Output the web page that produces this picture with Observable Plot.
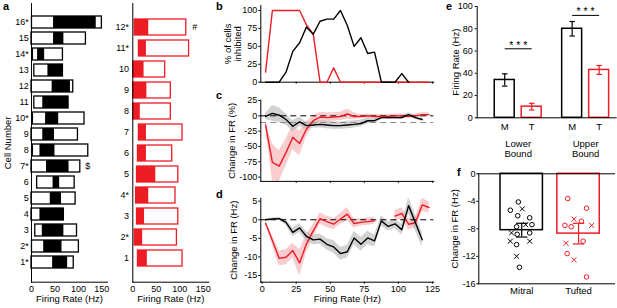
<!DOCTYPE html>
<html><head><meta charset="utf-8">
<script src="https://cdn.jsdelivr.net/npm/d3@7"></script>
<script src="https://cdn.jsdelivr.net/npm/@observablehq/plot@0.6"></script>
<style>
html,body{margin:0;padding:0;background:#fff;}
#fig{position:relative;width:617px;height:308px;overflow:hidden;background:#fff;font-family:"Liberation Sans",Arial,Helvetica,sans-serif;}
.plbl{position:absolute;font-weight:bold;font-size:11px;line-height:8px;color:#000;}
</style></head><body>
<div id="fig">
<div class="plbl" style="left:3px;top:2.4px">a</div>
<div class="plbl" style="left:216px;top:2.4px">b</div>
<div class="plbl" style="left:216px;top:90.5px">c</div>
<div class="plbl" style="left:216px;top:189.9px">d</div>
<div class="plbl" style="left:446px;top:2.4px">e</div>
<div class="plbl" style="left:457px;top:168.2px">f</div>
</div>
<script>
// ---------- panel a (mitral, black) ----------
const cellsA = ["16*","15","14*","13","12","11","10*","9","8","7*","6","5","4","3","2*","1*"];
const loA  = [1,0,3,6,0,6,3,0,3,0,12,0,0,8,1,0];
const hiA  = [150,116,67,67,89,79,113,99,121,104,92,94,69,97,101,90];
const onA  = [47,47,13,35,44,24,30,24,18,32,46,40,18,23,26,45];
const offA = [138,69,28,67,83,79,58,49,50,80,60,64,69,69,65,77];
const flagCellA = "7*", flagSymA = "$";
// ---------- panel a (tufted, red) ----------
const cellsR = ["12*","11*","10","9","8","7","6","5","4*","3","2*","1"];
const loR   = [4,13,1,1,1,13,11,9,7,9,4,11];
const hiR   = [114,120,69,81,81,106,84,97,91,97,94,106];
const fillR = [34,29,24,30,16,29,29,49,34,25,21,31];
const flagCellR = "12*", flagSymR = "#";
// ---------- panels b, c, d (firing-rate bins, Hz) ----------
const bins = [2.5,7.5,12.5,17.5,22.5,27.5,32.5,37.5,42.5,47.5,52.5,57.5,62.5,67.5,72.5,77.5,82.5,87.5,92.5,97.5,102.5,107.5,112.5,117.5,122.5];
const bBlack = [0,0,0,14,43,55,77,67,85,88,88,100,79,50,62,40,42,0,0,0,12,0];
const bRed   = [14,100,100,100,100,100,80,67,0,0,20,0,0,0,0,0,0,0,0,0,0,0,0,0,0];
const cBlack    = [-1,4,1,-6,-17,-10,-16,-15,-14,-15,-16,-16,-15,-14,-12.5,-8,-8,-3,-3,-3,-3,2,-3,-6];
const cBlackErr = [5,13,12,9,9,8,6,5,6,6,6,6,6,6,5.5,5,4,3,3,3,3,3,3,3];
const cRed    = [-15,-76,-82,-60,-35,-45,-22,-8,-2,-3,-2,-1,3,-1,-1,0,-1,-1,-1,0,0,-1,0,2,2];
const cRedErr = [5,30,25,22,20,20,12,8,8,8,7,7,8,6,3,3,3,3,3,3,3,3,3,3,3];
const cThreshold = -11;
const dBlack    = [0,0.2,0.3,-0.7,-3.4,-2.2,-4.5,-5.4,-5.2,-6.6,-7.3,-9.1,-8.6,-4.9,-6.6,-4.9,-5.7,-0.3,-1.8,-1.1,-2.7,3.8,-0.8,-5.4];
const dBlackErr = [0.2,0.3,0.4,0.8,1.2,1.2,1.3,1.3,1.4,1.5,1.7,1.7,1.7,1.8,1.8,1.8,1.6,1.4,1.2,1.2,1.4,2.2,2.2,2];
const dRed    = [-0.9,-5.6,-10.4,-10.1,-8.3,-11.6,-6.5,-3,0.3,-0.5,-1.2,0.2,1.5,-1,-0.7,-0.5,-0.3,NaN,NaN,1,1.7,-1.2,-0.8,4,3.3];
const dRedErr = [0.3,1.2,2,2,2,3.5,2.5,1.8,1.5,1.5,1.5,1.5,1.8,1.2,1,1,1,NaN,NaN,1.5,1.5,1.5,1.5,1.8,1.5];
// ---------- panel e ----------
const eBounds = ["Lower\nBound","Upper\nBound"];
const eTypes = ["M","T"];
const eMeanM = [34,80], eErrM = [5.5,6.5];
const eMeanT = [10,43], eErrT = [3,4];
const eSigY = [62,92];
const eSigText = "* * *";
// ---------- panel f ----------
const fNames = ["Mitral","Tufted"];
const fMean = [-8.2,-8.7];
const fErr  = [1.0,1.5];
const fMitralO  = [-4.1,-5.3,-6.1,-6.4,-7.4,-7.7,-8.8,-8.6,-10.3,-13.6];
const fMitralOj = [-0.06,-0.2,-0.07,0.14,0.18,-0.09,-0.08,0.14,-0.09,-0.04];
const fMitralX  = [-5.1,-7.4,-8.6,-9.8,-9.8,-12.0];
const fMitralXj = [0.01,0.07,-0.18,-0.2,0.14,-0.09];
const fTuftedO  = [-3.6,-5.0,-6.9,-7.5,-7.7,-9.8,-11.6,-15.0];
const fTuftedOj = [-0.19,0.14,0.05,-0.24,-0.13,0.08,-0.2,0.14];
const fTuftedX  = [-6.6,-7.5,-10.1,-12.5];
const fTuftedXj = [-0.08,0.23,-0.22,-0.08];

// ---------- styling ----------
const FONT = "'Liberation Sans', Arial, Helvetica, sans-serif";
const RED = "#ee1c25", PINK = "#f4a3a6", GRAY = "#b4b4b4";
const fig = document.getElementById("fig");
const style = {fontFamily: FONT, fontSize: "9px", background: "transparent", overflow: "visible", color: "#000"};
const fmt = d => String(d);
function place(node, left, top) {
  node.style.position = "absolute";
  node.style.left = left + "px";
  node.style.top = top + "px";
  fig.appendChild(node);
}
function yLabel(text, dx) {
  return Plot.text([text], {frameAnchor:"left", dx, rotate:-90, textAnchor:"middle", lineAnchor:"middle", fontSize:9.5});
}
function xLabel(text) {
  return Plot.text([text], {frameAnchor:"bottom", dy:17, textAnchor:"middle", lineAnchor:"middle", fontSize:9.5});
}

// ---------- panel a left ----------
const rowsA = cellsA.map((cell,i)=>({cell, lo:loA[i], hi:hiA[i], on:onA[i], off:offA[i]}));
const flagA = rowsA.filter(d=>d.cell===flagCellA).map(d=>({...d, sym:flagSymA}));
place(Plot.plot({
  width:125, height:308, marginLeft:31, marginRight:18, marginTop:3, marginBottom:26.3, style,
  x:{domain:[0,162]},
  y:{type:"band", domain:cellsA, paddingInner:0.25, paddingOuter:0.57},
  marks:[
    Plot.barX(rowsA,{y:"cell",x1:"lo",x2:"hi",fill:"white",stroke:"black",strokeWidth:1.3}),
    Plot.barX(rowsA,{y:"cell",x1:"on",x2:"off",fill:"black"}),
    Plot.text(flagA,{y:"cell",x:"hi",text:"sym",dx:5,textAnchor:"start",fontSize:9}),
    Plot.axisY({tickSize:0,tickPadding:2.7,label:null}),
    Plot.axisX({ticks:[0,50,100,150],tickSize:0,tickPadding:3,label:null}),
    Plot.frame({anchor:"left"}),
    Plot.frame({anchor:"bottom"}),
    xLabel("Firing Rate (Hz)"),
    yLabel("Cell Number", -24)
  ]
}),0,0);

// ---------- panel a right ----------
const rowsR = cellsR.map((cell,i)=>({cell, lo:loR[i], hi:hiR[i], fill:fillR[i]}));
const flagR = rowsR.filter(d=>d.cell===flagCellR).map(d=>({...d, sym:flagSymR}));
place(Plot.plot({
  width:112, height:308, marginLeft:24.3, marginRight:11.7, marginTop:3, marginBottom:26.3, style,
  x:{domain:[0,162]},
  y:{type:"band", domain:cellsR, paddingInner:0.22, paddingOuter:0.58},
  marks:[
    Plot.barX(rowsR,{y:"cell",x1:"lo",x2:"hi",fill:"white",stroke:RED,strokeWidth:1.3}),
    Plot.barX(rowsR,{y:"cell",x1:"lo",x2:"fill",fill:RED}),
    Plot.text(flagR,{y:"cell",x:"hi",text:"sym",dx:6,textAnchor:"start",fontSize:9}),
    Plot.axisY({tickSize:0,tickPadding:3.8,label:null}),
    Plot.axisX({ticks:[0,50,100,150],tickSize:0,tickPadding:3,label:null}),
    Plot.frame({anchor:"left"}),
    Plot.frame({anchor:"bottom"}),
    xLabel("Firing Rate (Hz)")
  ]
}),108,0);

// ---------- panel b ----------
const rowsBk = bBlack.map((v,i)=>({x:bins[i], v}));
const rowsBr = bRed.map((v,i)=>({x:bins[i], v}));
const xTicks = [25,50,75,100,125];
place(Plot.plot({
  width:235, height:88, marginLeft:55.3, marginRight:6.7, marginTop:5, marginBottom:6.3, style,
  x:{domain:[-1,126]}, y:{domain:[0,107]},
  marks:[
    Plot.axisY({ticks:[0,25,50,75,100],tickSize:2,tickPadding:1.6,label:null}),
    Plot.axisX({ticks:xTicks,tickSize:2,tickFormat:()=>"",label:null}),
    Plot.frame({anchor:"left"}),
    Plot.frame({anchor:"bottom"}),
    Plot.line(rowsBr,{x:"x",y:"v",stroke:RED,strokeWidth:1.4}),
    Plot.line(rowsBk,{x:"x",y:"v",stroke:"black",strokeWidth:1.4}),
    yLabel("% of cells\ninhibited", -28)
  ]
}),205,0);

// ---------- panel c ----------
const rowsCk = cBlack.map((v,i)=>({x:bins[i], v, e:cBlackErr[i]}));
const rowsCr = cRed.map((v,i)=>({x:bins[i], v, e:cRedErr[i]}));
place(Plot.plot({
  width:235, height:100, marginLeft:55.3, marginRight:6.7, marginTop:11.7, marginBottom:7.1, style,
  x:{domain:[-1,126]}, y:{domain:[-107,25.5]},
  marks:[
    Plot.areaY(rowsCr,{x:"x",y1:d=>d.v-d.e,y2:d=>d.v+d.e,fill:PINK,fillOpacity:0.55,clip:true}),
    Plot.areaY(rowsCk,{x:"x",y1:d=>d.v-d.e,y2:d=>d.v+d.e,fill:GRAY,fillOpacity:0.6,clip:true}),
    Plot.ruleY([0],{stroke:"black",strokeDasharray:"6,4",strokeWidth:1}),
    Plot.ruleY([cThreshold],{stroke:"#888",strokeDasharray:"6,4",strokeWidth:1}),
    Plot.axisY({ticks:[-100,-75,-50,-25,0,25],tickFormat:fmt,tickSize:2,tickPadding:1.6,label:null}),
    Plot.axisX({ticks:xTicks,tickSize:2,tickFormat:()=>"",label:null}),
    Plot.frame({anchor:"left"}),
    Plot.frame({anchor:"bottom"}),
    Plot.line(rowsCr,{x:"x",y:"v",stroke:RED,strokeWidth:1.4}),
    Plot.line(rowsCk,{x:"x",y:"v",stroke:"black",strokeWidth:1.4}),
    yLabel("Change in FR (%)", -28.6)
  ]
}),205,88);

// ---------- panel d ----------
const rowsDk = dBlack.map((v,i)=>({x:bins[i], v, e:dBlackErr[i]}));
const rowsDr = dRed.map((v,i)=>({x:bins[i], v, e:dRedErr[i]}));
place(Plot.plot({
  width:235, height:120, marginLeft:55.3, marginRight:6.7, marginTop:9.7, marginBottom:26.3, style,
  x:{domain:[-1,126]}, y:{domain:[-16.8,5.8]},
  marks:[
    Plot.areaY(rowsDr,{x:"x",y1:d=>d.v-d.e,y2:d=>d.v+d.e,fill:PINK,fillOpacity:0.55,clip:true}),
    Plot.areaY(rowsDk,{x:"x",y1:d=>d.v-d.e,y2:d=>d.v+d.e,fill:GRAY,fillOpacity:0.6,clip:true}),
    Plot.ruleY([0],{stroke:"black",strokeDasharray:"6,4",strokeWidth:1}),
    Plot.axisY({ticks:[-15,-10,-5,0,5],tickFormat:fmt,tickSize:2,tickPadding:1.6,label:null}),
    Plot.axisX({ticks:[0,...xTicks],tickSize:2,tickPadding:1.5,label:null}),
    Plot.frame({anchor:"left"}),
    Plot.frame({anchor:"bottom"}),
    Plot.line(rowsDr,{x:"x",y:"v",stroke:RED,strokeWidth:1.4}),
    Plot.line(rowsDk,{x:"x",y:"v",stroke:"black",strokeWidth:1.4}),
    yLabel("Change in FR (Hz)", -27),
    xLabel("Firing Rate (Hz)")
  ]
}),205,188);

// ---------- panel e ----------
const GROUP_STEP = 2.5, HALF = 0.37, CAP = 0.1;
const eRows = eBounds.flatMap((b,gi)=>eTypes.map((t,ti)=>({
  bound:b, type:t, pos:gi*GROUP_STEP+ti,
  mean: ti ? eMeanT[gi] : eMeanM[gi], err: ti ? eErrT[gi] : eErrM[gi]})));
const eGroups = eBounds.map((b,gi)=>({bound:b, x1:gi*GROUP_STEP, x2:gi*GROUP_STEP+1, mid:gi*GROUP_STEP+0.5, sig:eSigY[gi]}));
const eM = eRows.filter(d=>d.type==="M"), eT = eRows.filter(d=>d.type==="T");
function errMarks(rows, color, xKey) {
  return [
    Plot.ruleX(rows,{x:xKey,y1:d=>d.mean-d.err,y2:d=>d.mean+d.err,stroke:color,strokeWidth:1.2}),
    Plot.link(rows,{x1:d=>d[xKey]-CAP,x2:d=>d[xKey]+CAP,y1:d=>d.mean-d.err,y2:d=>d.mean-d.err,stroke:color,strokeWidth:1.2}),
    Plot.link(rows,{x1:d=>d[xKey]-CAP,x2:d=>d[xKey]+CAP,y1:d=>d.mean+d.err,y2:d=>d.mean+d.err,stroke:color,strokeWidth:1.2})
  ];
}
place(Plot.plot({
  width:182, height:160, marginLeft:41.7, marginRight:0.3, marginTop:6, marginBottom:42.7, style,
  x:{domain:[-1.02,4.17], axis:null}, y:{domain:[0,100]},
  marks:[
    Plot.rectY(eM,{x1:d=>d.pos-HALF,x2:d=>d.pos+HALF,y1:0,y2:"mean",fill:"white",stroke:"black",strokeWidth:1.5}),
    Plot.rectY(eT,{x1:d=>d.pos-HALF,x2:d=>d.pos+HALF,y1:0,y2:"mean",fill:"white",stroke:RED,strokeWidth:1.5}),
    ...errMarks(eM,"black","pos"),
    ...errMarks(eT,RED,"pos"),
    Plot.link(eGroups,{x1:"x1",x2:"x2",y1:"sig",y2:"sig",stroke:"black",strokeWidth:1}),
    Plot.text(eGroups,{x:"mid",y:"sig",text:()=>eSigText,dy:-3.5,fontSize:10.5}),
    Plot.axisY({ticks:[0,20,40,60,80,100],tickSize:2,tickPadding:2.4,label:null}),
    Plot.frame({anchor:"left"}),
    Plot.ruleY([0],{stroke:"black",strokeWidth:1}),
    Plot.text(eRows,{x:"pos",y:0,text:"type",dy:8.7,lineAnchor:"middle",fontSize:9.5}),
    Plot.text(eGroups,{x:"mid",y:0,text:"bound",dy:30.7,lineAnchor:"middle",lineHeight:1.1,fontSize:9.5}),
    yLabel("Firing Rate (Hz)", -21.7)
  ]
}),435,0);

// ---------- panel f ----------
const fRows = fNames.map((n,i)=>({name:n, idx:i+1, mean:fMean[i], err:fErr[i]}));
const fM = fRows.slice(0,1), fT = fRows.slice(1,2);
const ptsMO = fMitralO.map((v,i)=>({x:1+fMitralOj[i], y:v}));
const ptsMX = fMitralX.map((v,i)=>({x:1+fMitralXj[i], y:v}));
const ptsTO = fTuftedO.map((v,i)=>({x:2+fTuftedOj[i], y:v}));
const ptsTX = fTuftedX.map((v,i)=>({x:2+fTuftedXj[i], y:v}));
place(Plot.plot({
  width:182, height:148, marginLeft:43.3, marginRight:2, marginTop:13.3, marginBottom:24.7, style,
  x:{domain:[0.245,2.65]}, y:{domain:[-16,0]},
  marks:[
    Plot.rectY(fM,{x1:d=>d.idx-0.373,x2:d=>d.idx+0.373,y1:0,y2:"mean",fill:"white",stroke:"black",strokeWidth:1.5}),
    Plot.rectY(fT,{x1:d=>d.idx-0.373,x2:d=>d.idx+0.373,y1:0,y2:"mean",fill:"white",stroke:RED,strokeWidth:1.5}),
    Plot.dot(ptsMO,{x:"x",y:"y",r:2.3,stroke:"black",strokeWidth:1}),
    Plot.dot(ptsMX,{x:"x",y:"y",r:2.4,symbol:"times",stroke:"black",strokeWidth:1}),
    Plot.dot(ptsTO,{x:"x",y:"y",r:2.3,stroke:RED,strokeWidth:1}),
    Plot.dot(ptsTX,{x:"x",y:"y",r:2.4,symbol:"times",stroke:RED,strokeWidth:1}),
    ...errMarks(fM,"black","idx"),
    ...errMarks(fT,RED,"idx"),
    Plot.axisY({ticks:[0,-4,-8,-12,-16],tickFormat:fmt,tickSize:2,tickPadding:1.3,label:null}),
    Plot.axisX({ticks:[1,2],tickFormat:i=>fNames[i-1],tickSize:0,tickPadding:3,label:null,fontSize:9.5}),
    Plot.frame({anchor:"left"}),
    Plot.ruleY([0],{stroke:"black",strokeWidth:1}),
    Plot.ruleY([-16],{stroke:"black",strokeWidth:1}),
    yLabel("Change in FR (Hz)", -24.3)
  ]
}),435,160);
</script>
</body></html>
